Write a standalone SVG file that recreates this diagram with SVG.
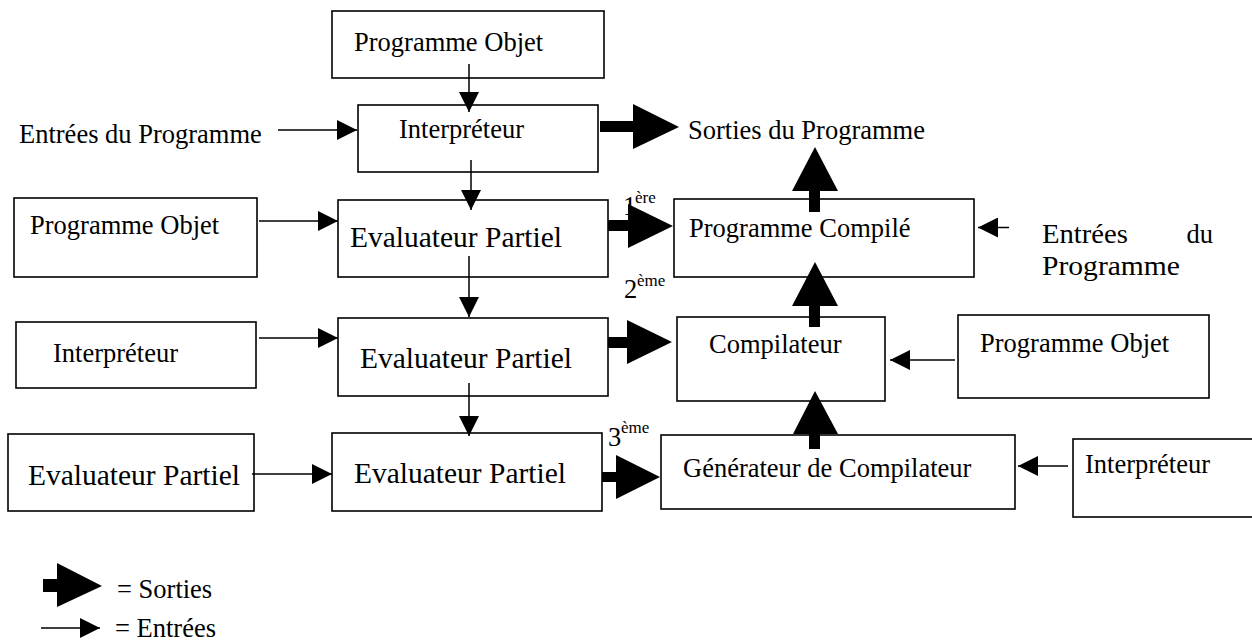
<svg xmlns="http://www.w3.org/2000/svg" width="1252" height="643" viewBox="0 0 1252 643">
<style>
  .box { fill: #fff; stroke: #000; stroke-width: 1.6; }
  .t { font-family: "Liberation Serif", "Times New Roman", serif; font-size: 26.5px; fill: #000; }
  .ev { font-size: 28.5px; }
  .sup { font-family: "Liberation Serif", "Times New Roman", serif; font-size: 17px; fill: #000; }
  .thin { stroke: #000; stroke-width: 1.5; fill: none; marker-end: url(#ah); }
  .thick { fill: #000; stroke: none; }
</style>
<defs>
  <marker id="ah" viewBox="0 0 20 20" refX="20" refY="10" markerWidth="20" markerHeight="20" markerUnits="userSpaceOnUse" orient="auto">
    <path d="M0,0 L20,10 L0,20 Z" fill="#000"/>
  </marker>
</defs>
<rect width="1252" height="643" fill="#fff"/>

<g id="n-po-top"><rect class="box" x="332" y="11" width="272" height="67"/><text class="t" x="354" y="51">Programme Objet</text></g>
<g id="n-entrees-1"><text class="t" x="19" y="143">Entrées du Programme</text></g>
<g id="n-interp-1"><rect class="box" x="358" y="105" width="240" height="67"/><text class="t" x="399" y="138">Interpréteur</text></g>
<g id="n-sorties"><text class="t" x="688" y="139">Sorties du Programme</text></g>

<g id="n-po-left"><rect class="box" x="14" y="198" width="243" height="79"/><text class="t" x="30" y="234">Programme Objet</text></g>
<g id="n-eval-2"><rect class="box" x="338" y="200" width="270" height="77"/><text class="t ev" x="350" y="247" textLength="212" lengthAdjust="spacingAndGlyphs">Evaluateur Partiel</text></g>
<g id="n-compile"><rect class="box" x="674" y="199" width="300" height="78"/><text class="t" x="689" y="237">Programme Compilé</text></g>
<g id="n-entrees-2"><text class="t" x="1042" y="243" textLength="86" lengthAdjust="spacingAndGlyphs">Entrées</text><text class="t" x="1213" y="243" text-anchor="end">du</text><text class="t" x="1042" y="275" textLength="138" lengthAdjust="spacingAndGlyphs">Programme</text></g>

<g id="n-interp-left"><rect class="box" x="16" y="322" width="240" height="66"/><text class="t" x="53" y="362">Interpréteur</text></g>
<g id="n-eval-3"><rect class="box" x="338" y="318" width="270" height="78"/><text class="t ev" x="360" y="368" textLength="212" lengthAdjust="spacingAndGlyphs">Evaluateur Partiel</text></g>
<g id="n-compilateur"><rect class="box" x="677" y="317" width="208" height="84"/><text class="t" x="709" y="353">Compilateur</text></g>
<g id="n-po-right"><rect class="box" x="958" y="315" width="251" height="83"/><text class="t" x="980" y="352">Programme Objet</text></g>

<g id="n-eval-left"><rect class="box" x="8" y="434" width="246" height="77"/><text class="t ev" x="28" y="485" textLength="212" lengthAdjust="spacingAndGlyphs">Evaluateur Partiel</text></g>
<g id="n-eval-4"><rect class="box" x="332" y="433" width="270" height="78"/><text class="t ev" x="354" y="483" textLength="212" lengthAdjust="spacingAndGlyphs">Evaluateur Partiel</text></g>
<g id="n-generateur"><rect class="box" x="661" y="435" width="354" height="74"/><text class="t" x="683" y="477">Générateur de Compilateur</text></g>
<g id="n-interp-right"><rect class="box" x="1073" y="439" width="190" height="78"/><text class="t" x="1085" y="473">Interpréteur</text></g>

<g id="labels">
  <text class="t" x="623" y="215">1</text><text class="sup" x="635" y="203">ère</text>
  <text class="t" x="624" y="298">2</text><text class="sup" x="637" y="286">ème</text>
  <text class="t" x="608" y="446">3</text><text class="sup" x="621" y="433">ème</text>
</g>

<g id="connectors">
  <line class="thin" x1="469" y1="64" x2="469" y2="112"/>
  <line class="thin" x1="471" y1="160" x2="471" y2="210"/>
  <line class="thin" x1="469" y1="256" x2="469" y2="317"/>
  <line class="thin" x1="469" y1="383" x2="469" y2="436"/>
  <line class="thin" x1="278" y1="130" x2="357" y2="130"/>
  <line class="thin" x1="259" y1="221" x2="338" y2="221"/>
  <line class="thin" x1="259" y1="338" x2="338" y2="338"/>
  <line class="thin" x1="252" y1="474" x2="332" y2="474"/>
  <line class="thin" x1="1009" y1="227.5" x2="978" y2="227.5"/>
  <line class="thin" x1="955" y1="360" x2="890" y2="360"/>
  <line class="thin" x1="1068" y1="466" x2="1018" y2="466"/>

  <polygon class="thick" points="600,121 633,121 633,104 679,127 633,149 633,132 600,132"/>
  <polygon class="thick" points="608,220 628,220 628,204 673,226 628,248 628,231 608,231"/>
  <polygon class="thick" points="608,337 627,337 627,320 672,342 627,364 627,348 608,348"/>
  <polygon class="thick" points="602,472 616,472 616,455 660,477 616,499 616,482 602,482"/>
  <polygon class="thick" points="809,212 809,191 792,191 815,147 838,191 820,191 820,212"/>
  <polygon class="thick" points="809,327 809,306 792,306 815,262 838,306 820,306 820,327"/>
  <polygon class="thick" points="809,449 809,434 793,434 815,391 838,434 820,434 820,449"/>
</g>

<g id="legend">
  <polygon class="thick" points="43,579 57,579 57,563 102,586 57,607 57,592 43,592"/>
  <text class="t" x="117" y="598">= Sorties</text>
  <line class="thin" x1="41" y1="628" x2="100" y2="628"/>
  <text class="t" x="115" y="637">= Entrées</text>
</g>
</svg>
